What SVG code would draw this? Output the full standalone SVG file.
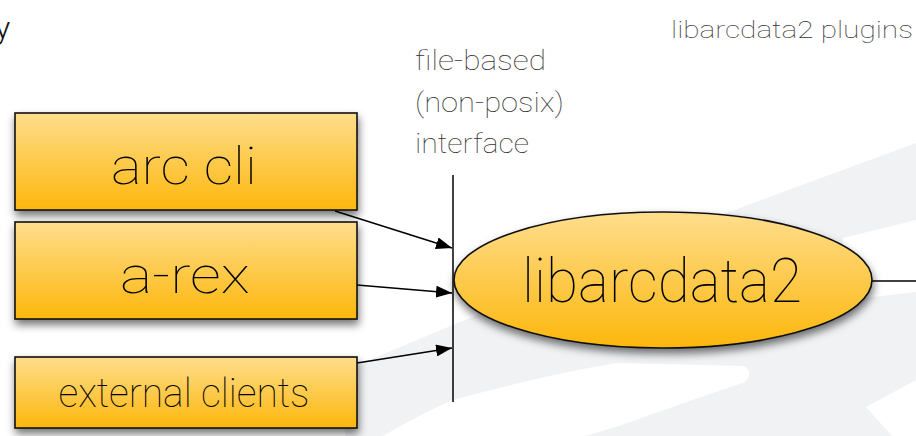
<svg xmlns="http://www.w3.org/2000/svg" width="916" height="436" viewBox="0 0 916 436">
  <defs>
    <linearGradient id="gold" x1="0" y1="0" x2="0" y2="1">
      <stop offset="0" stop-color="#fedd8c"/>
      <stop offset="1" stop-color="#fdb70c"/>
    </linearGradient>
    <filter id="shadow" x="-10%" y="-20%" width="125%" height="150%">
      <feDropShadow dx="1" dy="5" stdDeviation="4" flood-color="#000" flood-opacity="0.55"/>
    </filter>
    <marker id="arrow" viewBox="0 0 16 12" refX="16" refY="6" markerWidth="16" markerHeight="12" markerUnits="userSpaceOnUse" orient="auto">
      <path d="M0,0 L16,6 L0,12 Z" fill="#000"/>
    </marker>
    <style>
      .node { fill: url(#gold); stroke: #111; stroke-width: 1.6; filter: url(#shadow); }
      .big { font-family: Roboto, Lato, "Liberation Sans", sans-serif; font-weight: 100; fill: #000; text-anchor: middle; }
      .note { font-family: Roboto, Lato, "Liberation Sans", sans-serif; font-weight: 100; fill: #333; }
      .edge { stroke: #000; stroke-width: 1.5; fill: none; }
      .bg { fill: #f1f2f4; }
    </style>
  </defs>

  <!-- background swooshes -->
  <g id="background">
    <rect width="916" height="436" fill="#fff"/>
    <path class="bg" d="M345,370 L453,325 L729,212 L916,143 L916,436 L345,436 Z"/>
    <!-- white stripes cut through the grey -->
    <path fill="#fff" d="M383,436 Q420,414 453,400 Q540,376 616,363 L744,366 Q754,372 745,382 Q680,404 616,427 L585,436 Z"/>
    <path fill="#fff" d="M916,220 L843,238 L840,300 L873,297 L916,292 Z"/>
    <path fill="#fff" d="M916,380 L866,407 L892,436 L916,436 Z"/>
  </g>

  <!-- connectors -->
  <g id="connectors">
    <line class="edge" x1="453" y1="175" x2="453" y2="402"/>
    <line class="edge" x1="335" y1="211" x2="452" y2="248" marker-end="url(#arrow)"/>
    <line class="edge" x1="357" y1="285" x2="452" y2="293" marker-end="url(#arrow)"/>
    <line class="edge" x1="357" y1="363" x2="452" y2="348" marker-end="url(#arrow)"/>
    <line class="edge" x1="870" y1="281" x2="916" y2="281"/>
  </g>

  <!-- nodes -->
  <g id="arc-cli">
    <rect class="node" x="15" y="113" width="342" height="97"/>
    <text class="big" x="184" y="184" font-size="52" textLength="146" lengthAdjust="spacingAndGlyphs">arc cli</text>
  </g>
  <g id="a-rex">
    <rect class="node" x="15" y="222" width="342" height="97"/>
    <text class="big" x="185" y="293" font-size="52" textLength="130" lengthAdjust="spacingAndGlyphs">a-rex</text>
  </g>
  <g id="external-clients">
    <rect class="node" x="15" y="357" width="342" height="71"/>
    <text class="big" x="184" y="407" font-size="40" fill="#2a2a2a" textLength="251" lengthAdjust="spacingAndGlyphs">external clients</text>
  </g>
  <g id="libarcdata2">
    <ellipse class="node" cx="663" cy="280" rx="209" ry="68"/>
    <text class="big" x="662" y="302" font-size="62" textLength="280" lengthAdjust="spacingAndGlyphs">libarcdata2</text>
  </g>

  <!-- annotations -->
  <g id="labels">
    <text class="note" x="415" y="70" font-size="28" textLength="131" lengthAdjust="spacingAndGlyphs">file-based</text>
    <text class="note" x="415" y="112" font-size="28" textLength="149" lengthAdjust="spacingAndGlyphs">(non-posix)</text>
    <text class="note" x="415" y="153" font-size="28" textLength="114" lengthAdjust="spacingAndGlyphs">interface</text>
    <text class="note" x="671" y="38" font-size="24" textLength="242" lengthAdjust="spacingAndGlyphs">libarcdata2 plugins</text>
    <text x="-5" y="39" font-family="Roboto, Lato, 'Liberation Sans', sans-serif" font-weight="300" font-size="32" fill="#111">y</text>
  </g>
</svg>
